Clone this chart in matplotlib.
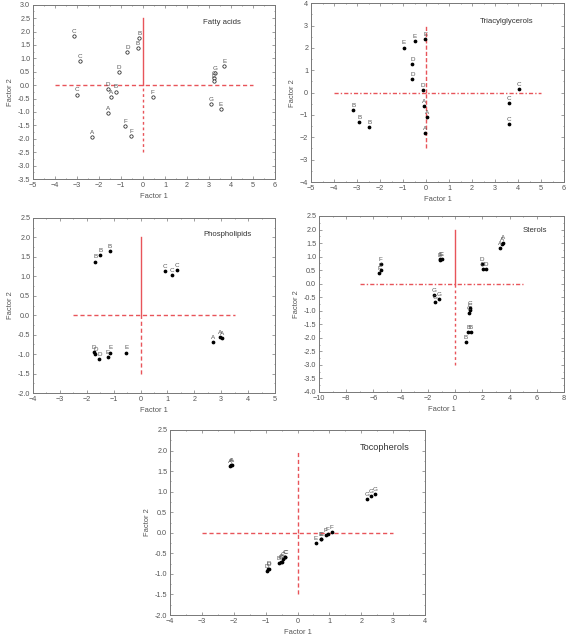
import matplotlib
matplotlib.use("Agg")
import matplotlib.pyplot as plt
import matplotlib.ticker as ticker

plt.rcParams["font.family"] = ["Liberation Sans", "DejaVu Sans"]

# ---- data ----
# Fatty acids
fa_lab = ["C", "C", "C", "D", "B", "B", "D", "D", "B", "A", "A", "A",
          "F", "F", "F", "G", "G", "E", "E", "G", "E"]
fa_x = [-3.14, -2.85, -3.02, -0.71, -0.17, -0.24, -1.09, -1.61, -1.23, -1.45, -1.61, -2.32,
        -0.80, -0.53, 0.44, 3.26, 3.24, 3.21, 3.70, 3.08, 3.53]
fa_y = [1.83, 0.90, -0.35, 1.25, 1.77, 1.39, 0.50, -0.15, -0.24, -0.46, -1.03, -1.94,
        -1.52, -1.91, -0.43, 0.44, 0.28, 0.16, 0.72, -0.72, -0.88]

# Triacylglycerols
tg_lab = ["E", "E", "E", "D", "D", "D", "A", "A", "A", "B", "B", "B", "C", "C", "C"]
tg_x = [-0.97, -0.50, -0.04, -0.59, -0.59, -0.13, -0.09, 0.04, -0.06,
        -3.17, -2.91, -2.46, 4.03, 3.60, 3.61]
tg_y = [2.02, 2.29, 2.42, 1.30, 0.60, 0.12, -0.61, -1.09, -1.81,
        -0.79, -1.30, -1.52, 0.18, -0.48, -1.39]

# Phospholipids
pl_lab = ["B", "B", "B", "C", "C", "C", "A", "A", "A", "D", "D", "D", "E", "E", "E"]
pl_x = [-1.68, -1.49, -1.14, 0.90, 1.18, 1.36, 2.70, 2.97, 3.02,
        -1.74, -1.68, -1.53, -1.22, -1.13, -0.53]
pl_y = [1.38, 1.55, 1.66, 1.13, 1.03, 1.16, -0.68, -0.55, -0.58,
        -0.94, -0.99, -1.12, -1.08, -0.96, -0.96]

# Sterols
st_lab = ["F", "F", "F", "E", "E", "E", "G", "G", "G", "D", "D", "D",
          "A", "A", "A", "C", "C", "C", "B", "B", "B"]
st_x = [-5.60, -5.48, -5.46, -1.12, -1.00, -1.08, -1.55, -1.50, -1.20, 1.97, 2.02, 2.24,
        3.29, 3.42, 3.50, 1.08, 1.08, 1.03, 0.98, 1.15, 0.79]
st_y = [0.40, 0.49, 0.73, 0.88, 0.92, 0.90, -0.42, -0.67, -0.56, 0.74, 0.55, 0.55,
        1.33, 1.45, 1.52, -0.90, -0.98, -1.10, -1.78, -1.78, -2.16]

# Tocopherols
tc_lab = ["A", "A", "A", "G", "G", "G", "F", "F", "F", "E", "E", "E",
          "B", "B", "B", "C", "C", "C", "D", "D", "D"]
tc_x = [-2.12, -2.08, -2.04, 2.18, 2.31, 2.43, 0.89, 0.95, 1.07, 0.58, 0.73, 0.75,
        -0.58, -0.53, -0.49, -0.47, -0.40, -0.38, -0.97, -0.91, -0.89]
tc_y = [1.63, 1.64, 1.65, 0.82, 0.90, 0.95, -0.06, -0.03, 0.02, -0.24, -0.16, -0.15,
        -0.73, -0.71, -0.70, -0.64, -0.60, -0.60, -0.92, -0.88, -0.87]

W, H = 568, 640
red = "#e8545a"
grey = "#555555"


def box(left, right, top, bottom):
    # pixel box -> figure fraction rect
    return [left / W, 1 - bottom / H, (right - left) / W, (bottom - top) / H]


def panel(fig, rect, lab, xs, ys, title, xlim, ylim, xstep, ystep,
          hl, vl_up, vl_dn, hs="--", vs_up="-", vs_dn=(0, (2, 2)),
          hollow=False, title_pos=(0.78, 0.9), title_size=5.6):
    ax = fig.add_axes(rect)
    # reference lines
    ax.plot(hl, [0, 0], color=red, linewidth=1.0, linestyle=hs)
    ax.plot([0, 0], [0, vl_up], color=red, linewidth=1.0, linestyle=vs_up)
    ax.plot([0, 0], [vl_dn, 0], color=red, linewidth=1.0, linestyle=vs_dn)

    if hollow:
        ax.plot(xs, ys, linestyle="none", marker="o", markersize=2.4,
                markerfacecolor="white", markeredgecolor="#222222", markeredgewidth=0.55)
    else:
        ax.plot(xs, ys, linestyle="none", marker="o", markersize=1.7,
                color="black")
    for t, x, y in zip(lab, xs, ys):
        ax.annotate(t, (x, y), xytext=(0, 1.5), textcoords="offset points",
                    ha="center", va="bottom", fontsize=4.5, color=grey)

    ax.text(title_pos[0], title_pos[1], title, transform=ax.transAxes,
            ha="center", va="center", fontsize=title_size, color="#333333")

    ax.set_xlim(xlim)
    ax.set_ylim(ylim)
    ax.xaxis.set_major_locator(ticker.MultipleLocator(xstep))
    ax.yaxis.set_major_locator(ticker.MultipleLocator(ystep))
    ax.xaxis.set_minor_locator(ticker.AutoMinorLocator(2))
    ax.yaxis.set_minor_locator(ticker.AutoMinorLocator(2))
    if ystep < 1:
        ax.yaxis.set_major_formatter(ticker.FormatStrFormatter("%.1f"))
    ax.tick_params(which="both", direction="in", top=True, right=True,
                   labelsize=5.2, labelcolor=grey, color="#777777", width=0.5, pad=2)
    ax.tick_params(which="major", length=2)
    ax.tick_params(which="minor", length=1)
    for s in ax.spines.values():
        s.set_color("#777777")
        s.set_linewidth(0.7)
    ax.set_xlabel("Factor 1", fontsize=5.4, color=grey, labelpad=3)
    ax.set_ylabel("Factor 2", fontsize=5.4, color=grey, labelpad=3)
    return ax


fig = plt.figure(figsize=(W / 100, H / 100), dpi=100)

panel(fig, box(33, 275, 4.7, 179), fa_lab, fa_x, fa_y, "Fatty acids",
      (-5, 6), (-3.5, 3.0), 1, 0.5, [-4, 5], 2.5, -2.5,
      hs=(0, (3, 2)), vs_dn=(0, (2, 2)), hollow=True, title_pos=(0.78, 0.9))

panel(fig, box(311, 564, 3.3, 182), tg_lab, tg_x, tg_y, "Triacylglycerols",
      (-5, 6), (-4, 4), 1, 1, [-4, 5], 3, -2.5,
      hs=(0, (3, 1.5, 1, 1.5)), vs_up=(0, (3, 1.5)), vs_dn=(0, (3, 1.5)),
      title_pos=(0.775, 0.9))

panel(fig, box(33, 275, 218, 393), pl_lab, pl_x, pl_y, "Phospholipids",
      (-4, 5), (-2.0, 2.5), 1, 0.5, [-2.5, 3.5], 2, -1.5,
      hs=(0, (3, 2)), vs_dn=(0, (3, 2)), title_pos=(0.805, 0.905))

panel(fig, box(319, 564, 216, 392), st_lab, st_x, st_y, "Sterols",
      (-10, 8), (-4.0, 2.5), 2, 0.5, [-7, 5], 2, -3,
      hs=(0, (3, 1.5, 1, 1.5)), vs_dn=(0, (2, 2)), title_pos=(0.88, 0.92))

panel(fig, box(170, 425, 430, 615), tc_lab, tc_x, tc_y, "Tocopherols",
      (-4, 4), (-2.0, 2.5), 1, 0.5, [-3, 3], 2, -1.5,
      hs=(0, (3, 2)), vs_up=(0, (3, 2)), vs_dn=(0, (3, 2)),
      title_pos=(0.84, 0.905), title_size=6.6)

fig.savefig("out.png", dpi=100)
